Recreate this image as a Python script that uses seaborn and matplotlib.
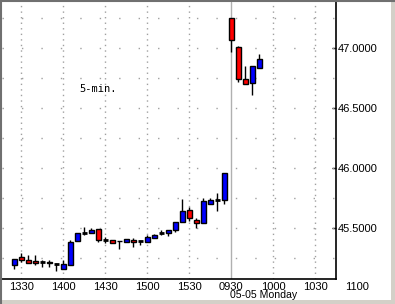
import numpy as np
import pandas as pd
import matplotlib
matplotlib.use("Agg")
import matplotlib.pyplot as plt
import seaborn as sns
from matplotlib.lines import Line2D
from matplotlib.patches import Rectangle

# ---- data (5-min bars) ----
opens = [45.19, 45.255, 45.235, 45.225, 45.215, 45.22, 45.20, 45.16, 45.19, 45.39,
         45.46, 45.46, 45.49, 45.40, 45.40, 45.395, 45.385, 45.40, 45.39, 45.385,
         45.42, 45.455, 45.455, 45.48, 45.55, 45.65, 45.565, 45.54, 45.70, 45.735,
         45.735, 47.25, 47.01, 46.74, 46.71, 46.835]
highs = [45.245, 45.295, 45.275, 45.275, 45.235, 45.23, 45.21, 45.235, 45.40, 45.46,
         45.51, 45.50, 45.49, 45.425, 45.40, 45.395, 45.41, 45.415, 45.39, 45.44,
         45.45, 45.485, 45.485, 45.55, 45.74, 45.675, 45.585, 45.75, 45.75, 45.79,
         45.96, 47.25, 47.015, 46.85, 46.85, 46.95]
lows = [45.16, 45.22, 45.205, 45.19, 45.175, 45.175, 45.14, 45.16, 45.19, 45.39,
        45.44, 45.46, 45.385, 45.375, 45.375, 45.325, 45.385, 45.345, 45.355, 45.385,
        45.42, 45.44, 45.43, 45.47, 45.55, 45.56, 45.50, 45.54, 45.70, 45.645,
        45.70, 46.965, 46.715, 46.70, 46.605, 46.835]
closes = [45.245, 45.23, 45.205, 45.21, 45.215, 45.205, 45.20, 45.20, 45.385, 45.46,
          45.46, 45.485, 45.40, 45.40, 45.375, 45.39, 45.405, 45.385, 45.39, 45.425,
          45.445, 45.455, 45.485, 45.55, 45.64, 45.585, 45.54, 45.725, 45.735, 45.735,
          45.96, 47.065, 46.74, 46.70, 46.85, 46.91]

tick_pos = [1, 7, 13, 19, 25, 31, 37, 43]
tick_labels = ["1330", "1400", "1430", "1500", "1530", "0930", "1000", "1030"]
extra_tick_pos = 49
extra_tick_label = "1100"
y_ticks = [45.5, 46.0, 46.5, 47.0]
y_minor = [45.25, 45.75, 46.25, 46.75, 47.25]
session_break = 31

df = pd.DataFrame({"o": opens, "h": highs, "l": lows, "c": closes})
df["i"] = np.arange(len(df))
df["dir"] = np.where(df.c > df.o, "up", np.where(df.c < df.o, "down", "flat"))

sns.set_theme(style="white")
plt.rcParams["font.family"] = ["Liberation Sans", "DejaVu Sans"]

fig = plt.figure(figsize=(3.95, 3.04), dpi=100)
fig.patch.set_facecolor("white")
W, H = 395, 304
ax = fig.add_axes([2 / W, 1 - 279 / H, 334 / W, 277 / H])
ax.set_facecolor("white")

ax.set_xlim(-1.76, 45.96)
ax.set_ylim(45.075, 47.383)

# grid
for x in tick_pos:
    if x == session_break:
        ax.axvline(x, color="#b0b0b0", lw=1, zorder=1)
    else:
        ax.axvline(x, color="#a0a0a0", lw=1, ls=(0, (1, 3)), zorder=1)
for y in y_ticks + y_minor:
    ax.axhline(y, color="#a0a0a0", lw=1, ls=(0, (1, 13)), zorder=1)

# wicks
ax.vlines(df.i, df.l, df.h, color="black", lw=1, zorder=2)
# bodies
colors = {"up": "#0000ff", "down": "#ff0000"}
bw = 0.68
for d in ["up", "down"]:
    sub = df[df.dir == d]
    ax.bar(sub.i, (sub.c - sub.o).abs(), bottom=np.minimum(sub.o, sub.c), width=bw,
           color=colors[d], edgecolor="black", linewidth=1, zorder=3)
flat = df[df.dir == "flat"]
ax.hlines(flat.c, flat.i - bw / 2, flat.i + bw / 2, color="black", lw=2, zorder=3)

# axes styling
for s in ["top", "left"]:
    ax.spines[s].set_visible(False)
ax.spines["right"].set_color("black")
ax.spines["bottom"].set_color("black")
ax.spines["right"].set_linewidth(1.2)
ax.spines["bottom"].set_linewidth(1.2)

ax.yaxis.tick_right()
ax.set_yticks(y_ticks)
ax.set_yticklabels([f"{v:.4f}" for v in y_ticks], fontsize=8, color="black")
ax.tick_params(axis="y", direction="in", length=3, pad=1, width=1, colors="black")
ax.set_xticks(tick_pos)
ax.set_xticklabels(tick_labels, fontsize=8, color="black")
ax.tick_params(axis="x", length=0, pad=2)
ax.text(extra_tick_pos, 1 - 289.5 / H, extra_tick_label,
        transform=matplotlib.transforms.blended_transform_factory(ax.transData, fig.transFigure),
        ha="center", va="baseline", fontsize=8, color="black", clip_on=False)
ax.text(session_break - 0.15, 1 - 298.5 / H, "05-05 Monday",
        transform=matplotlib.transforms.blended_transform_factory(ax.transData, fig.transFigure),
        ha="left", va="baseline", fontsize=7.6, color="black", clip_on=False)

ax.text(79 / W, 1 - 89 / H, "5-min.", transform=fig.transFigure, ha="left", va="center",
        fontsize=7.5, family="DejaVu Sans Mono", color="black")

# window frame
fig.add_artist(Line2D([0, 1], [1 - 0.5 / H, 1 - 0.5 / H], transform=fig.transFigure, color="#707070", lw=1.5))
fig.add_artist(Line2D([0.5 / W, 0.5 / W], [0, 1], transform=fig.transFigure, color="#707070", lw=1.5))
fig.add_artist(Rectangle((1 - 4 / W, 0), 4 / W, 1, transform=fig.transFigure, color="#d4d0c8", lw=0))
fig.add_artist(Rectangle((0, 0), 1, 4 / H, transform=fig.transFigure, color="#d4d0c8", lw=0))

fig.savefig("out.png", dpi=100, facecolor="white")
